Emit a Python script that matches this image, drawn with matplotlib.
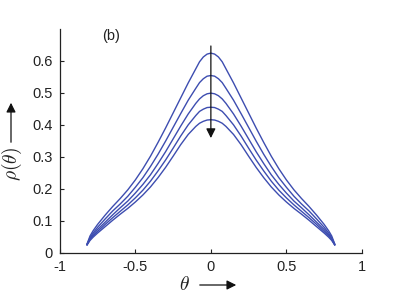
import matplotlib.pyplot as plt
import numpy as np

plt.rcParams["font.family"] = ["Liberation Sans", "DejaVu Sans"]
plt.rcParams["mathtext.fontset"] = "cm"

# half-curves (theta >= 0), mirrored for theta < 0
theta_half = [0.0, 0.025, 0.05, 0.075, 0.1, 0.15, 0.2, 0.25, 0.3, 0.35, 0.4,
              0.45, 0.5, 0.55, 0.6, 0.65, 0.7, 0.75, 0.78, 0.8, 0.82]
rho_1 = [0.624, 0.621, 0.612, 0.597, 0.575, 0.531, 0.484, 0.437, 0.390, 0.345,
         0.302, 0.263, 0.228, 0.197, 0.170, 0.145, 0.118, 0.089, 0.069, 0.053,
         0.028]
rho_2 = [0.554, 0.552, 0.544, 0.532, 0.514, 0.477, 0.435, 0.392, 0.349, 0.308,
         0.270, 0.235, 0.205, 0.177, 0.153, 0.131, 0.106, 0.080, 0.062, 0.048,
         0.027]
rho_3 = [0.499, 0.497, 0.491, 0.481, 0.467, 0.434, 0.396, 0.356, 0.316, 0.279,
         0.244, 0.214, 0.187, 0.162, 0.141, 0.119, 0.096, 0.073, 0.057, 0.045,
         0.026]
rho_4 = [0.455, 0.454, 0.449, 0.442, 0.429, 0.400, 0.365, 0.327, 0.290, 0.256,
         0.224, 0.196, 0.172, 0.150, 0.130, 0.110, 0.089, 0.067, 0.053, 0.042,
         0.025]
rho_5 = [0.416, 0.415, 0.411, 0.405, 0.395, 0.370, 0.338, 0.302, 0.267, 0.235,
         0.206, 0.181, 0.159, 0.139, 0.121, 0.102, 0.082, 0.062, 0.049, 0.039,
         0.025]
curves = [rho_1, rho_2, rho_3, rho_4, rho_5]

x_ticks = [-1, -0.5, 0, 0.5, 1]
x_labels = ["-1", "-0.5", "0", "0.5", "1"]
y_ticks = [0, 0.1, 0.2, 0.3, 0.4, 0.5, 0.6]
y_labels = ["0", "0.1", "0.2", "0.3", "0.4", "0.5", "0.6"]

LINE = "#3d4db0"
DARK = "#222222"

fig = plt.figure(figsize=(3.99, 3.0), dpi=100)
ax = fig.add_axes([0.150, 0.157, 0.757, 0.747])

th = np.array(theta_half)
for rho in curves:
    r = np.array(rho)
    x = np.concatenate([-th[::-1], th[1:]])
    y = np.concatenate([r[::-1], r[1:]])
    ax.plot(x, y, color=LINE, linewidth=1.0)

ax.set_xlim(-1, 1)
ax.set_ylim(0, 0.7)
ax.set_xticks(x_ticks)
ax.set_xticklabels(x_labels)
ax.set_yticks(y_ticks)
ax.set_yticklabels(y_labels)
ax.tick_params(direction="in", length=3, width=0.8, labelsize=10.5,
               colors=DARK, pad=5)
for side in ["top", "right"]:
    ax.spines[side].set_visible(False)
for side in ["left", "bottom"]:
    ax.spines[side].set_color(DARK)
    ax.spines[side].set_linewidth(0.9)

ax.text(-0.72, 0.678, "(b)", fontsize=10.5, color=DARK, va="center")

# arrow through the peaks
ax.annotate("", xy=(0, 0.35), xytext=(0, 0.655),
            arrowprops=dict(arrowstyle="-|>", color="#111111", lw=0.9,
                            mutation_scale=14))

# axis labels with arrows
fig.text(12 / 399, 1 - 164 / 300, r"$\rho(\theta)$", rotation=90,
         fontsize=14, ha="center", va="center", color=DARK)
fig.text(184 / 399, 1 - 285 / 300, r"$\theta$", fontsize=14,
         ha="center", va="center", color=DARK)
ax.annotate("", xy=(11, 200), xytext=(11, 155), xycoords="figure pixels",
            textcoords="figure pixels",
            arrowprops=dict(arrowstyle="-|>", color="#111111", lw=0.9,
                            mutation_scale=14))
ax.annotate("", xy=(239, 15), xytext=(197, 15), xycoords="figure pixels",
            textcoords="figure pixels",
            arrowprops=dict(arrowstyle="-|>", color="#111111", lw=0.9,
                            mutation_scale=14))

fig.savefig("out.png", dpi=100)
